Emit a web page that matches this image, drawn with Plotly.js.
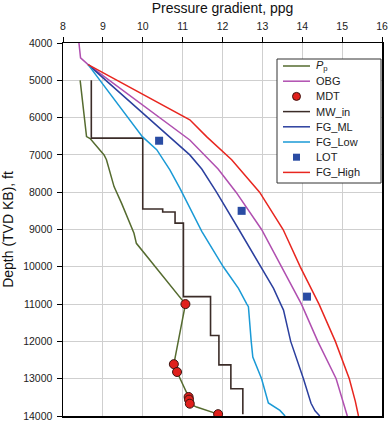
<!DOCTYPE html>
<html>
<head>
<meta charset="utf-8">
<script src="https://cdn.plot.ly/plotly-3.0.1.min.js"></script>
<style>html,body{margin:0;padding:0;background:#fff}#chart{width:388px;height:424px}</style>
</head>
<body>
<div id="chart"></div>
<script>
// Pore pressure (Pp)
const ppDepth = [5000, 5700, 6060, 6510, 6560, 7000, 7130, 7850, 8300, 9100, 9370, 11000, 12610, 12820, 13490, 13560, 13670, 13760, 13850, 13950];
const ppVal   = [8.43, 8.50, 8.55, 8.59, 8.68, 9.03, 9.09, 9.28, 9.47, 9.78, 9.84, 11.07, 10.78, 10.86, 11.15, 11.16, 11.18, 11.35, 11.60, 11.89];

// Overburden gradient (OBG)
const obgDepth = [4000, 4400, 4580, 5340, 6600, 7380, 8000, 9000, 10000, 11000, 12000, 13000, 14000];
const obgVal   = [8.40, 8.44, 8.63, 9.59, 11.18, 11.89, 12.34, 12.98, 13.49, 13.98, 14.39, 14.85, 15.13];

// MDT measurements
const mdtDepth = [11000, 12610, 12820, 13490, 13560, 13670, 13950];
const mdtVal   = [11.07, 10.78, 10.86, 11.15, 11.16, 11.18, 11.89];

// Mud weight in
const mwDepth = [5000, 6550, 6550, 8450, 8450, 8530, 8530, 8830, 8830, 10800, 10800, 11840, 11840, 12630, 12630, 13270, 13270, 13950];
const mwVal   = [8.71, 8.71, 10.00, 10.00, 10.50, 10.50, 10.81, 10.81, 11.02, 11.02, 11.70, 11.70, 11.91, 11.91, 12.21, 12.21, 12.51, 12.51];

// Fracture gradient, most likely
const fgMlDepth = [4580, 7000, 7380, 8000, 9000, 10000, 10580, 11000, 11160, 12000, 13000, 13660, 13860, 14000];
const fgMlVal   = [8.63, 11.18, 11.48, 11.85, 12.41, 12.96, 13.28, 13.46, 13.53, 13.71, 14.03, 14.22, 14.32, 14.44];

// Fracture gradient, low
const fgLowDepth = [4580, 6510, 6860, 7400, 7890, 9050, 10000, 10580, 11000, 11070, 12000, 12420, 13000, 13650, 13850, 14000];
const fgLowVal   = [8.63, 9.99, 10.35, 10.68, 10.93, 11.48, 12.02, 12.40, 12.61, 12.65, 12.72, 12.76, 12.98, 13.15, 13.44, 13.57];

// Leak-off tests
const lotDepth = [6620, 8500, 10800];
const lotVal   = [10.41, 12.48, 14.12];

// Fracture gradient, high
const fgHighDepth = [4580, 6060, 6510, 7130, 8000, 9000, 10000, 11000, 12000, 13000, 13600, 13800, 14000];
const fgHighVal   = [8.63, 11.18, 11.60, 12.23, 12.93, 13.52, 13.95, 14.42, 14.83, 15.18, 15.33, 15.37, 15.41];

const seriesNames = ['<i>P</i><sub>p</sub>', 'OBG', 'MDT', 'MW_in', 'FG_ML', 'FG_Low', 'LOT', 'FG_High'];

const xTicks = [8, 9, 10, 11, 12, 13, 14, 15, 16];
const yTicks = [4000, 5000, 6000, 7000, 8000, 9000, 10000, 11000, 12000, 13000, 14000];

const FONT = '"Liberation Sans", Arial, sans-serif';
const W = 388, H = 424;
const M = {l: 63, r: 6, t: 43, b: 8};
const PW = W - M.l - M.r, PH = H - M.t - M.b;
const px = v => (v - M.l) / PW;        // pixel x -> paper x
const py = v => (H - M.b - v) / PH;    // pixel y -> paper y

const styles = [
  {kind: 'line', color: '#556b2f'},
  {kind: 'line', color: '#b04fb0'},
  {kind: 'circle', color: '#e0201c', edge: '#3a1410'},
  {kind: 'line', color: '#3b2c28'},
  {kind: 'line', color: '#2b3f9e'},
  {kind: 'line', color: '#1a9ad6'},
  {kind: 'square', color: '#2a4ca3'},
  {kind: 'line', color: '#e8261f'}
];

const traces = [
  {x: ppVal, y: ppDepth, name: seriesNames[0], mode: 'lines', line: {color: styles[0].color, width: 1.5}},
  {x: obgVal, y: obgDepth, name: seriesNames[1], mode: 'lines', line: {color: styles[1].color, width: 1.5}},
  {x: mdtVal, y: mdtDepth, name: seriesNames[2], mode: 'markers', marker: {symbol: 'circle', size: 9, color: styles[2].color, line: {color: styles[2].edge, width: 1}}},
  {x: mwVal, y: mwDepth, name: seriesNames[3], mode: 'lines', line: {color: styles[3].color, width: 1.6}},
  {x: fgMlVal, y: fgMlDepth, name: seriesNames[4], mode: 'lines', line: {color: styles[4].color, width: 1.5}},
  {x: fgLowVal, y: fgLowDepth, name: seriesNames[5], mode: 'lines', line: {color: styles[5].color, width: 1.5}},
  {x: lotVal, y: lotDepth, name: seriesNames[6], mode: 'markers', marker: {symbol: 'square', size: 8, color: styles[6].color}},
  {x: fgHighVal, y: fgHighDepth, name: seriesNames[7], mode: 'lines', line: {color: styles[7].color, width: 1.5}}
];

// Compact legend box (drawn with shapes + text annotations)
const box = {x0: 277, x1: 381, y0: 59, y1: 183};
const rowY0 = 66, rowStep = 15.2, sx0 = 283, sx1 = 310, tx = 314;
const shapes = [{type: 'rect', xref: 'paper', yref: 'paper', x0: px(box.x0), x1: px(box.x1), y0: py(box.y0), y1: py(box.y1),
  fillcolor: '#fff', line: {color: '#333', width: 1}, layer: 'above'}];
const annotations = [];
seriesNames.forEach((nm, i) => {
  const yy = rowY0 + i * rowStep;
  const st = styles[i];
  const cx = (sx0 + sx1) / 2;
  if (st.kind === 'line') {
    shapes.push({type: 'line', xref: 'paper', yref: 'paper', x0: px(sx0), x1: px(sx1), y0: py(yy), y1: py(yy),
      line: {color: st.color, width: 1.5}, layer: 'above'});
  } else if (st.kind === 'circle') {
    shapes.push({type: 'circle', xref: 'paper', yref: 'paper', x0: px(cx - 4), x1: px(cx + 4), y0: py(yy + 4), y1: py(yy - 4),
      fillcolor: st.color, line: {color: st.edge, width: 1}, layer: 'above'});
  } else {
    shapes.push({type: 'rect', xref: 'paper', yref: 'paper', x0: px(cx - 3.5), x1: px(cx + 3.5), y0: py(yy + 3.5), y1: py(yy - 3.5),
      fillcolor: st.color, line: {color: st.color, width: 0}, layer: 'above'});
  }
  annotations.push({xref: 'paper', yref: 'paper', x: px(tx), y: py(yy), xanchor: 'left', yanchor: 'middle',
    text: nm, showarrow: false, font: {family: FONT, size: 11, color: '#222'}});
});

const layout = {
  width: W, height: H,
  margin: {l: M.l, r: M.r, t: M.t, b: M.b, pad: 0},
  paper_bgcolor: '#fff', plot_bgcolor: '#fff',
  font: {family: FONT, size: 11, color: '#222'},
  showlegend: false,
  shapes: shapes,
  annotations: annotations,
  xaxis: {
    side: 'top', range: [8, 16], tickvals: xTicks, ticktext: xTicks.map(String),
    ticks: 'outside', ticklen: 5, tickcolor: '#000', ticklabelstandoff: 2,
    showline: true, linecolor: '#000', linewidth: 1.5, mirror: true,
    showgrid: true, gridcolor: '#cfcfcf', gridwidth: 1, zeroline: false,
    tickfont: {family: FONT, size: 10.5, color: '#222'},
    title: {text: 'Pressure gradient, ppg', font: {family: FONT, size: 14, color: '#111'}, standoff: 6}
  },
  yaxis: {
    range: [14000, 4000], tickvals: yTicks, ticktext: yTicks.map(String),
    ticks: 'outside', ticklen: 5, tickcolor: '#000', ticklabelstandoff: 2,
    showline: true, linecolor: '#000', linewidth: 1.5, mirror: true,
    showgrid: true, gridcolor: '#cfcfcf', gridwidth: 1, zeroline: false,
    tickfont: {family: FONT, size: 10.5, color: '#222'},
    title: {text: 'Depth (TVD KB), ft', font: {family: FONT, size: 14, color: '#111'}, standoff: 6}
  }
};

Plotly.newPlot('chart', traces, layout, {displayModeBar: false, staticPlot: true});
</script>
</body>
</html>
